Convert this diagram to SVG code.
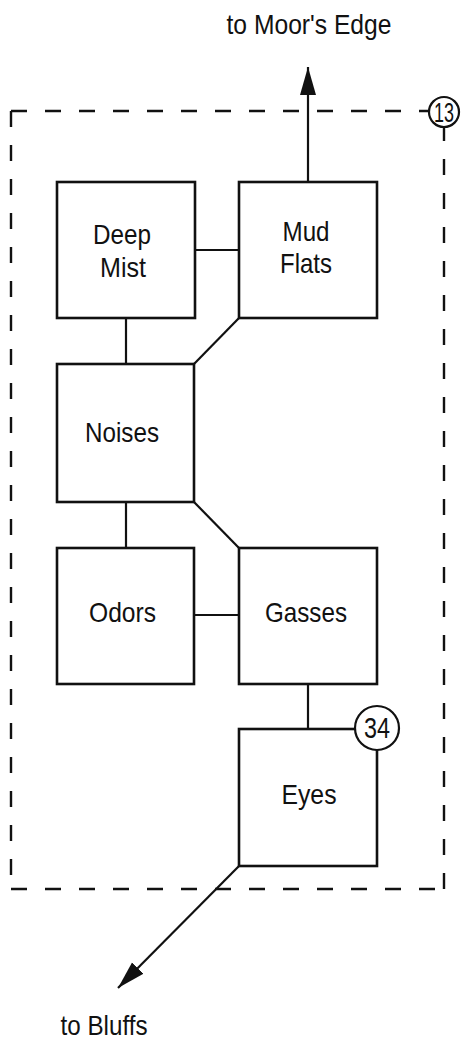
<svg xmlns="http://www.w3.org/2000/svg" width="463" height="1043" viewBox="0 0 463 1043">
<style>
.box{fill:#fff;stroke:#111;stroke-width:2.6}
.con{fill:none;stroke:#111;stroke-width:2.2}
.dash{fill:none;stroke:#111;stroke-width:2.4;stroke-dasharray:16 18}
.lbl{font-family:"Liberation Sans",Arial,Helvetica,sans-serif;font-size:28px;fill:#111;text-anchor:middle}
.num{fill:#fff;stroke:#111;stroke-width:2.2}
</style>
<defs>
<marker id="arr" markerUnits="userSpaceOnUse" markerWidth="30" markerHeight="18" refX="28" refY="8" orient="auto">
<path d="M0,0 L28,8 L0,16 Z" fill="#111"/>
</marker>
</defs>
<rect width="463" height="1043" fill="#fff"/>
<g id="boundary">
<path class="dash" d="M11,111 H428"/>
<path class="dash" d="M11,111 V889"/>
<path class="dash" d="M11,889 H444"/>
<path class="dash" d="M444,889 V127"/>
</g>
<g id="connectors">
<path class="con" d="M195,250 H239"/>
<path class="con" d="M126,318 V364"/>
<path class="con" d="M194,364 L239,318"/>
<path class="con" d="M126,502 V548"/>
<path class="con" d="M194,502 L239,548"/>
<path class="con" d="M194,615 H239"/>
<path class="con" d="M308,684 V729"/>
<path class="con" d="M308,182 V67" marker-end="url(#arr)"/>
<path class="con" d="M239,866 L118,988" marker-end="url(#arr)"/>
</g>
<g id="label-moors-edge"><text class="lbl" x="309" y="34" textLength="165" lengthAdjust="spacingAndGlyphs">to Moor's Edge</text></g>
<g id="label-bluffs"><text class="lbl" x="104" y="1035" textLength="87" lengthAdjust="spacingAndGlyphs">to Bluffs</text></g>
<g id="badge-13">
<circle class="num" cx="444" cy="112" r="15"/>
<text class="lbl" x="444" y="122" textLength="20" lengthAdjust="spacingAndGlyphs" style="font-size:27px">13</text>
</g>
<g id="deep-mist">
<rect class="box" x="57" y="182" width="138" height="136"/>
<text class="lbl" x="122" y="244" textLength="58" lengthAdjust="spacingAndGlyphs">Deep</text>
<text class="lbl" x="123" y="277" textLength="46" lengthAdjust="spacingAndGlyphs">Mist</text>
</g>
<g id="mud-flats">
<rect class="box" x="239" y="182" width="138" height="136"/>
<text class="lbl" x="306" y="241" textLength="47" lengthAdjust="spacingAndGlyphs">Mud</text>
<text class="lbl" x="306" y="273" textLength="52" lengthAdjust="spacingAndGlyphs">Flats</text>
</g>
<g id="noises">
<rect class="box" x="57" y="364" width="137" height="138"/>
<text class="lbl" x="122" y="442" textLength="74" lengthAdjust="spacingAndGlyphs">Noises</text>
</g>
<g id="odors">
<rect class="box" x="57" y="548" width="137" height="136"/>
<text class="lbl" x="122.5" y="622" textLength="67" lengthAdjust="spacingAndGlyphs">Odors</text>
</g>
<g id="gasses">
<rect class="box" x="239" y="548" width="138" height="136"/>
<text class="lbl" x="306" y="622" textLength="82" lengthAdjust="spacingAndGlyphs">Gasses</text>
</g>
<g id="eyes">
<rect class="box" x="239" y="729" width="138" height="137"/>
<text class="lbl" x="309" y="804" textLength="55" lengthAdjust="spacingAndGlyphs">Eyes</text>
<circle class="num" cx="377" cy="728" r="22"/>
<text class="lbl" x="377" y="738" textLength="26" lengthAdjust="spacingAndGlyphs" style="font-size:29px">34</text>
</g>
</svg>
